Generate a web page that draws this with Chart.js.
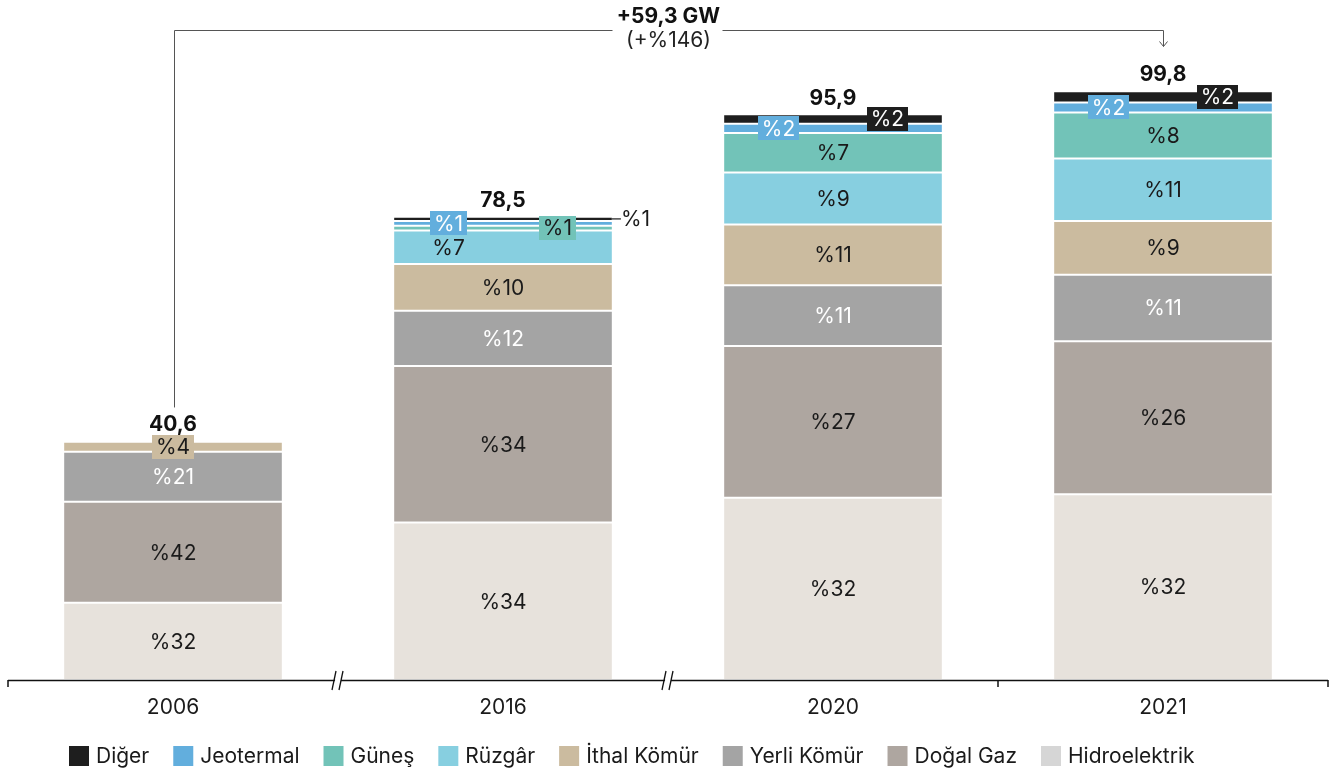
<!DOCTYPE html>
<html><head><meta charset="utf-8">
<script src="https://cdn.jsdelivr.net/npm/chart.js@4"></script>
<style>html,body{margin:0;padding:0;background:#fff;} canvas{display:block;}</style>
</head><body>
<canvas id="c" width="1338" height="774"></canvas>
<script>
// ---- data (GW) ----
const years = ['2006', '2016', '2020', '2021'];
const hidro      = [13.1, 26.7, 30.9, 31.5];
const dogalGaz   = [17.1, 26.5, 25.7, 25.9];
const yerliKomur = [8.5, 9.4, 10.3, 11.3];
const ithalKomur = [1.7, 7.9, 10.3, 9.1];
const ruzgar     = [0.2, 5.7, 8.8, 10.6];
const gunes      = [0, 0.8, 6.7, 7.8];
const jeotermal  = [0, 0.8, 1.6, 1.7];
const diger      = [0, 0.7, 1.6, 1.9];
const changeLabel = '+59,3 GW';
const changePctLabel = '(+%146)';

const FONT = "Inter, 'Noto Sans', sans-serif";
const FS = 21;
const colors = {
  'Hidroelektrik': '#e7e2dc',
  'Doğal Gaz': '#aea6a0',
  'Yerli Kömür': '#a4a4a4',
  'İthal Kömür': '#cbbb9f',
  'Rüzgâr': '#87cfe0',
  'Güneş': '#72c3b8',
  'Jeotermal': '#62aedd',
  'Diğer': '#1e1e1e'
};
const legendSwatch = Object.assign({}, colors, {'Hidroelektrik': '#d6d6d6'});

const series = [
  ['Hidroelektrik', hidro], ['Doğal Gaz', dogalGaz], ['Yerli Kömür', yerliKomur],
  ['İthal Kömür', ithalKomur], ['Rüzgâr', ruzgar], ['Güneş', gunes],
  ['Jeotermal', jeotermal], ['Diğer', diger]
];

function fmt(v) { return v.toFixed(1).replace('.', ','); }

const labelPlugin = {
  id: 'segLabels',
  afterDatasetsDraw(chart) {
    const ctx = chart.ctx;
    const n = chart.data.labels.length;
    const totals = [];
    for (let j = 0; j < n; j++) {
      let s = 0; chart.data.datasets.forEach(d => s += d.data[j]); totals.push(s);
    }
    ctx.save();
    ctx.font = FS + 'px ' + FONT;
    ctx.textBaseline = 'middle';
    ctx.textAlign = 'center';
    const boxes = [];
    chart.data.datasets.forEach((ds, i) => {
      const meta = chart.getDatasetMeta(i);
      meta.data.forEach((bar, j) => {
        const v = ds.data[j];
        if (!v) return;
        const pct = Math.round(v / totals[j] * 100);
        if (pct < 1) return;
        const txt = '%' + pct;
        const top = bar.y, bot = bar.base, h = bot - top, cy = (top + bot) / 2;
        const w = bar.width;
        const name = ds.label;
        if (h >= 20) {
          let x = bar.x;
          if (name === 'Rüzgâr' && h < 40) x = bar.x - w / 4;
          ctx.fillStyle = name === 'Yerli Kömür' ? '#ffffff' : '#1a1a1a';
          ctx.fillText(txt, x, cy + 1);
        } else if (h < 6 && name === 'Diğer') {
          const x0 = bar.x + w / 2;
          ctx.strokeStyle = '#1a1a1a'; ctx.lineWidth = 1.2;
          ctx.beginPath(); ctx.moveTo(x0, cy); ctx.lineTo(x0 + 9, cy); ctx.stroke();
          ctx.fillStyle = '#1a1a1a'; ctx.textAlign = 'left';
          ctx.fillText(txt, x0 + 9, cy + 1);
          ctx.textAlign = 'center';
        } else {
          let x = bar.x;
          if (name === 'Jeotermal') x = bar.x - w / 4;
          if (name === 'Diğer' || name === 'Güneş') x = bar.x + w / 4;
          boxes.push({x, y: cy, txt, bg: ds.backgroundColor,
            fg: (name === 'Jeotermal' || name === 'Diğer') ? '#ffffff' : '#1a1a1a'});
        }
      });
    });
    boxes.forEach(b => {
      const tw = ctx.measureText(b.txt).width;
      const bw = tw + 8, bh = 24;
      ctx.fillStyle = b.bg;
      ctx.fillRect(Math.round(b.x - bw / 2), Math.round(b.y - bh / 2), Math.round(bw), bh);
      ctx.fillStyle = b.fg;
      ctx.fillText(b.txt, b.x, b.y + 1);
    });
    // totals
    ctx.font = 'bold ' + FS + 'px ' + FONT;
    ctx.fillStyle = '#111';
    for (let j = 0; j < n; j++) {
      let topY = Infinity, x = 0;
      chart.data.datasets.forEach((ds, i) => {
        const b = chart.getDatasetMeta(i).data[j];
        if (ds.data[j] && b.y < topY) { topY = b.y; x = b.x; }
      });
      chart._topY = chart._topY || [];
      chart._topY[j] = topY;
      ctx.fillText(fmt(totals[j]), x, topY - 16);
    }
    ctx.restore();
  }
};

const decoPlugin = {
  id: 'deco',
  afterDraw(chart) {
    const ctx = chart.ctx;
    const xs = chart.scales.x;
    const area = chart.chartArea;
    const axisY = area.bottom;
    const n = chart.data.labels.length;
    const step = xs.getPixelForValue(1) - xs.getPixelForValue(0);
    ctx.save();
    // axis line
    ctx.strokeStyle = '#111'; ctx.lineWidth = 1.5;
    ctx.beginPath(); ctx.moveTo(area.left, axisY + 0.5); ctx.lineTo(area.right, axisY + 0.5); ctx.stroke();
    // ticks: left, boundary 2020/2021, right
    const tickXs = [area.left, xs.getPixelForValue(2) + step / 2, area.right];
    tickXs.forEach(tx => {
      ctx.beginPath(); ctx.moveTo(tx, axisY); ctx.lineTo(tx, axisY + 7); ctx.stroke();
    });
    // breaks
    [0, 1].forEach(j => {
      const bx = xs.getPixelForValue(j) + step / 2;
      ctx.fillStyle = '#fff';
      ctx.beginPath();
      ctx.moveTo(bx - 5, axisY + 10); ctx.lineTo(bx - 1, axisY - 9);
      ctx.lineTo(bx + 5, axisY - 9); ctx.lineTo(bx + 1, axisY + 10); ctx.closePath(); ctx.fill();
      ctx.strokeStyle = '#111'; ctx.lineWidth = 1.3;
      ctx.beginPath(); ctx.moveTo(bx - 6, axisY + 10); ctx.lineTo(bx - 2, axisY - 9); ctx.stroke();
      ctx.beginPath(); ctx.moveTo(bx + 1, axisY + 10); ctx.lineTo(bx + 5, axisY - 9); ctx.stroke();
    });
    // x labels
    ctx.font = FS + 'px ' + FONT;
    ctx.fillStyle = '#1a1a1a';
    ctx.textAlign = 'center'; ctx.textBaseline = 'middle';
    chart.data.labels.forEach((l, j) => ctx.fillText(l, xs.getPixelForValue(j), axisY + 28));
    // change annotation
    const x0 = xs.getPixelForValue(0) + 1, x1 = xs.getPixelForValue(n - 1);
    const lineY = 30.5;
    const topFirst = chart._topY ? chart._topY[0] : 437;
    const midX = (x0 + x1) / 2;
    ctx.strokeStyle = '#555'; ctx.lineWidth = 1;
    ctx.beginPath();
    ctx.moveTo(Math.round(x0) + 0.5, topFirst - 33); ctx.lineTo(Math.round(x0) + 0.5, lineY);
    ctx.lineTo(midX - 56, lineY); ctx.stroke();
    ctx.beginPath();
    ctx.moveTo(midX + 54, lineY); ctx.lineTo(Math.round(x1) + 0.5, lineY);
    ctx.lineTo(Math.round(x1) + 0.5, lineY + 16); ctx.stroke();
    ctx.beginPath();
    ctx.moveTo(Math.round(x1) + 0.5 - 4, lineY + 11); ctx.lineTo(Math.round(x1) + 0.5, lineY + 16);
    ctx.lineTo(Math.round(x1) + 0.5 + 4, lineY + 11); ctx.stroke();
    ctx.fillStyle = '#111';
    ctx.font = 'bold ' + FS + 'px ' + FONT;
    ctx.fillText(changeLabel, midX, 17);
    ctx.font = FS + 'px ' + FONT;
    ctx.fillStyle = '#222';
    ctx.fillText(changePctLabel, midX, 41);
    // legend
    const order = chart.data.datasets.map(d => d.label).reverse();
    let lx = 69;
    const ly = 756;
    ctx.textAlign = 'left';
    ctx.font = FS + 'px ' + FONT;
    order.forEach(name => {
      ctx.fillStyle = legendSwatch[name];
      ctx.fillRect(lx, ly - 10, 20, 20);
      ctx.fillStyle = '#1a1a1a';
      ctx.fillText(name, lx + 27, ly + 1);
      lx += 27 + ctx.measureText(name).width + 24;
    });
    ctx.restore();
  }
};

new Chart(document.getElementById('c'), {
  type: 'bar',
  data: {
    labels: years,
    datasets: series.map(([name, vals]) => ({
      label: name,
      data: vals,
      backgroundColor: colors[name],
      borderColor: '#ffffff',
      borderWidth: {top: 1, bottom: 1, left: 0, right: 0},
      borderSkipped: false,
      categoryPercentage: 0.66,
      barPercentage: 1
    }))
  },
  options: {
    responsive: false,
    animation: false,
    devicePixelRatio: 1,
    layout: {padding: {left: 8, right: 10, top: 31, bottom: 94}},
    plugins: {legend: {display: false}, tooltip: {enabled: false}},
    scales: {
      x: {stacked: true, display: false},
      y: {stacked: true, display: false, min: 0, max: 110}
    }
  },
  plugins: [labelPlugin, decoPlugin]
});
</script>
</body></html>
